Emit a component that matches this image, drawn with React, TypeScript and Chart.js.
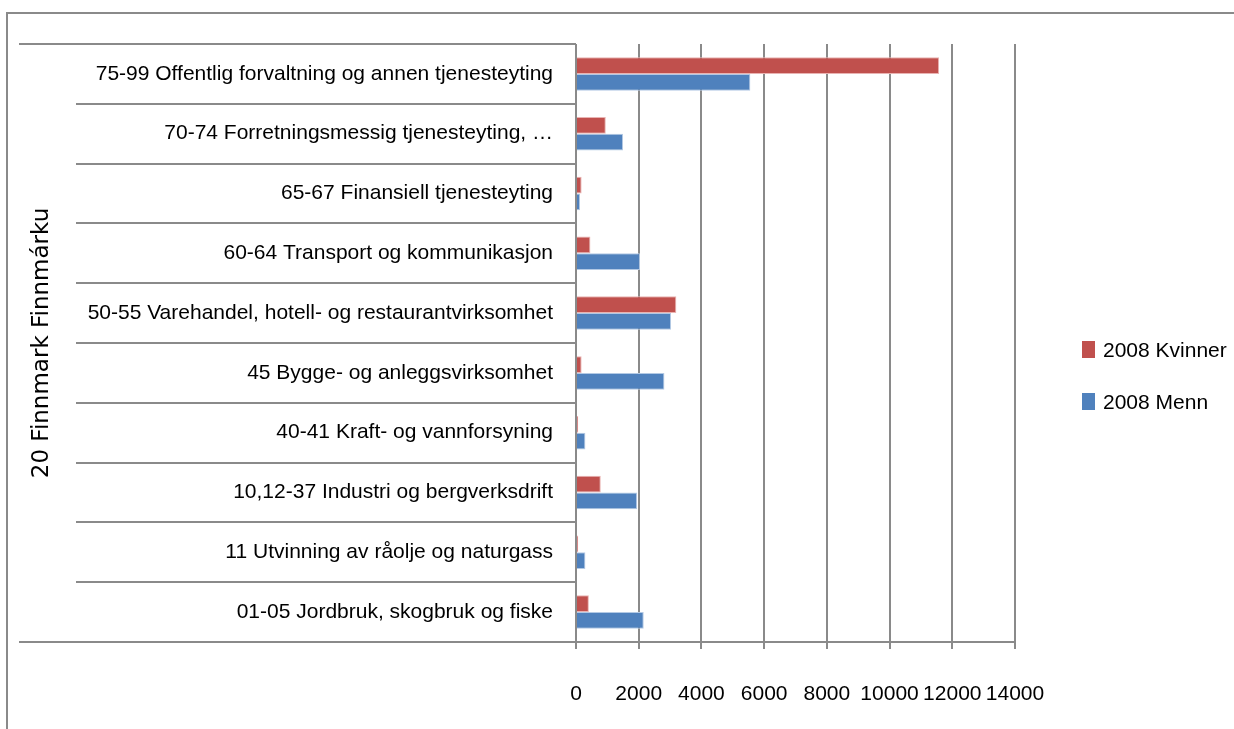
import React, { useEffect, useRef } from "react";
import { Chart, registerables } from "chart.js";

Chart.register(...registerables);

const categories = [
  "75-99 Offentlig forvaltning og annen tjenesteyting",
  "70-74 Forretningsmessig tjenesteyting, …",
  "65-67 Finansiell tjenesteyting",
  "60-64 Transport og kommunikasjon",
  "50-55 Varehandel, hotell- og restaurantvirksomhet",
  "45 Bygge- og anleggsvirksomhet",
  "40-41 Kraft- og vannforsyning",
  "10,12-37 Industri og bergverksdrift",
  "11 Utvinning av råolje og naturgass",
  "01-05 Jordbruk, skogbruk og fiske",
];

const kvinner = [11580, 950, 180, 460, 3200, 180, 70, 790, 70, 410];
const menn = [5560, 1500, 130, 2040, 3030, 2820, 300, 1950, 300, 2160];

const seriesNames = ["2008 Kvinner", "2008 Menn"];
const groupLabel = "20 Finnmark Finnmárku";
const xMin = 0;
const xMax = 14000;
const xStep = 2000;

const SANS = "'Liberation Sans', Arial, sans-serif";
const GRID = "#8a8a8a";

export default function App() {
  const ref = useRef<HTMLCanvasElement | null>(null);

  useEffect(() => {
    if (!ref.current) return;

    const framePlugin = {
      id: "frame",
      beforeDraw(chart: any) {
        const ctx = chart.ctx;
        ctx.save();
        ctx.fillStyle = "#ffffff";
        ctx.fillRect(0, 0, chart.width, chart.height);
        ctx.strokeStyle = GRID;
        ctx.lineWidth = 2;
        ctx.beginPath();
        ctx.moveTo(7, chart.height + 5);
        ctx.lineTo(7, 13);
        ctx.lineTo(chart.width + 5, 13);
        ctx.stroke();
        ctx.restore();
      },
      afterDraw(chart: any) {
        const ctx = chart.ctx;
        const yScale = chart.scales.y;
        const area = chart.chartArea;
        const n = chart.data.labels.length;
        ctx.save();
        ctx.strokeStyle = GRID;
        ctx.lineWidth = 2;
        for (let i = 0; i <= n; i++) {
          const py = Math.round(yScale.getPixelForValue(i - 0.5));
          const x0 = i === 0 || i === n ? 19 : 76;
          ctx.beginPath();
          ctx.moveTo(x0, py);
          ctx.lineTo(area.left, py);
          ctx.stroke();
        }
        ctx.beginPath();
        ctx.moveTo(area.left, area.top);
        ctx.lineTo(area.left, area.bottom + 7);
        ctx.stroke();
        ctx.beginPath();
        ctx.moveTo(area.left, area.bottom);
        ctx.lineTo(area.right, area.bottom);
        ctx.stroke();

        // legend
        ctx.font = `21px ${SANS}`;
        ctx.textAlign = "left";
        ctx.textBaseline = "middle";
        chart.data.datasets.forEach((ds: any, i: number) => {
          const cy = 351 + i * 52;
          ctx.fillStyle = ds.backgroundColor;
          ctx.fillRect(1082, cy - 10, 13, 17);
          ctx.fillStyle = "#000";
          ctx.fillText(ds.label, 1103, cy);
        });
        ctx.restore();
      },
    };

    const chart = new Chart(ref.current, {
      type: "bar",
      data: {
        labels: categories,
        datasets: [
          {
            label: seriesNames[0],
            data: kvinner,
            backgroundColor: "#C0504D",
            borderColor: "#E9B3B2",
            borderWidth: 1,
          },
          {
            label: seriesNames[1],
            data: menn,
            backgroundColor: "#4F81BD",
            borderColor: "#B3C9E4",
            borderWidth: 1,
          },
        ],
      },
      options: {
        indexAxis: "y",
        animation: false,
        responsive: true,
        maintainAspectRatio: false,
        layout: { padding: { left: 0, right: 219, top: 44, bottom: 0 } },
        datasets: {
          bar: { categoryPercentage: 0.56, barPercentage: 1 },
        },
        plugins: {
          legend: { display: false },
          tooltip: { enabled: false },
        },
        scales: {
          x: {
            type: "linear",
            min: xMin,
            max: xMax,
            ticks: {
              stepSize: xStep,
              autoSkip: false,
              maxRotation: 0,
              color: "#000",
              padding: 33,
              font: { family: SANS, size: 21 },
              callback: (v: any) => String(v),
            },
            grid: {
              color: GRID,
              lineWidth: 2,
              drawTicks: true,
              tickLength: 7,
            },
            border: { display: false },
            afterFit: (s: any) => {
              s.height = 87;
            },
          },
          y: {
            type: "category",
            grid: { display: false, drawTicks: false },
            border: { display: false },
            ticks: {
              autoSkip: false,
              color: "#000",
              padding: 23,
              font: { family: SANS, size: 21 },
            },
            title: {
              display: true,
              text: groupLabel,
              color: "#000",
              font: { family: "'DejaVu Sans', sans-serif", size: 23 },
              padding: { top: 28, bottom: 0 },
            },
            afterFit: (s: any) => {
              s.width = 576;
            },
          },
        },
      },
      plugins: [framePlugin],
    });

    return () => chart.destroy();
  }, []);

  return (
    <div
      style={{
        position: "fixed",
        left: 0,
        top: 0,
        width: 1234,
        height: 729,
        background: "#fff",
      }}
    >
      <canvas ref={ref} />
    </div>
  );
}
